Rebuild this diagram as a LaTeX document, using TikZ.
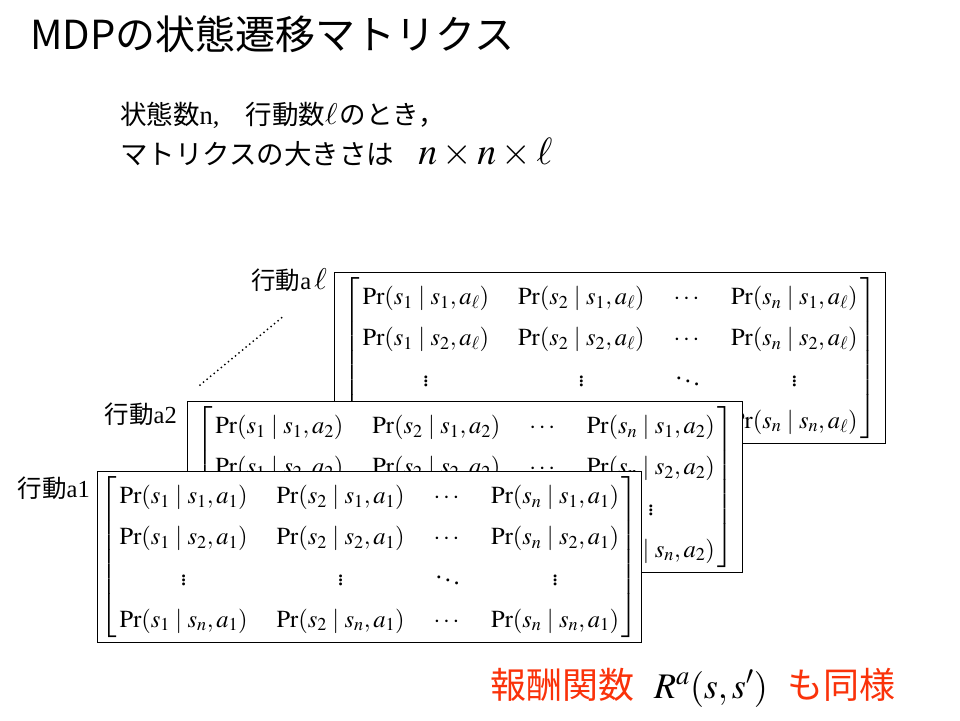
\documentclass[tikz,border=0pt]{standalone}
\usepackage{amsmath}
\usepackage{mathptmx}
\usepackage[no-math]{fontspec}
\setmainfont{Liberation Serif}
\newfontfamily\jp{Noto Sans CJK JP}
\usepackage{tikz}
\usetikzlibrary{positioning}
\definecolor{rewardred}{RGB}{250,50,10}

\newcommand{\prmat}[1]{%
  \renewcommand{\arraystretch}{1.42}\setlength{\arraycolsep}{14.5pt}%
  $\left[\,\begin{matrix}
  \Pr(s_1 \mid s_1, a_{#1}) & \Pr(s_2 \mid s_1, a_{#1}) & \cdots & \Pr(s_n \mid s_1, a_{#1})\\
  \Pr(s_1 \mid s_2, a_{#1}) & \Pr(s_2 \mid s_2, a_{#1}) & \cdots & \Pr(s_n \mid s_2, a_{#1})\\
  \vdots & \vdots & \ddots & \vdots\\
  \Pr(s_1 \mid s_n, a_{#1}) & \Pr(s_2 \mid s_n, a_{#1}) & \cdots & \Pr(s_n \mid s_n, a_{#1})
  \end{matrix}\,\right]$}

\begin{document}
\begin{tikzpicture}[
  x=1pt, y=-1pt,
  mat/.style={draw, fill=white, line width=1.2pt, anchor=north west, inner xsep=3pt, inner ysep=0pt,
    minimum height=171pt, font=\fontsize{24.5}{29}\selectfont},
  lbl/.style={anchor=base east, inner sep=0pt, font=\fontsize{24.5}{28}\selectfont}
]
\useasboundingbox (0,0) rectangle (960,720);

% title and size note
\node[anchor=base west, inner sep=0pt, font=\fontsize{40}{46}\selectfont\jp] (title) at (30,49)
  {MDPの状態遷移マトリクス};
\node[anchor=base west, inner sep=0pt, font=\fontsize{26.5}{30}\selectfont] (note1) at (120,124)
  {{\jp 状態数}n,\hspace{26pt}{\jp 行動数}{\fontsize{30}{34}\selectfont$\ell$}\hspace{2pt}{\jp のとき，}};
\node[anchor=base west, inner sep=0pt, font=\fontsize{27.5}{30}\selectfont] (note2) at (120,164)
  {{\jp マトリクスの大きさは}\hspace{24pt}{\fontsize{38}{44}\selectfont$n\times n\times \ell$}};

% stacked matrices, back to front
\node[mat, minimum width=551pt] (matl) at (334,272) {\prmat{\ell}};
\node[mat, minimum width=555pt] (mat2) at (187,401) {\prmat{2}};
\node[mat, minimum width=543pt] (mat1) at (97,471) {\prmat{1}};

% action labels
\node[lbl] (labl) at (327,289) {{\jp 行動}a\hspace{3pt}{\fontsize{30}{34}\selectfont$\ell$}};
\node[lbl] (lab2) at (177,423) {{\jp 行動}a2};
\node[lbl] (lab1) at (90,497) {{\jp 行動}a1};

% dots between layers
\coordinate (dotA) at (200,385);
\coordinate (dotB) at (285,315);
\draw[line width=2pt, line cap=round, dash pattern=on 0pt off 4.6pt] (dotA) -- (dotB);

% reward note
\node[anchor=base west, inner sep=0pt, text=rewardred, font=\fontsize{36}{40}\selectfont] (reward) at (490,698)
  {{\jp 報酬関数}\hspace{20pt}\textcolor{black}{$R^a(s,s')$}\hspace{20pt}{\jp も同様}};
\end{tikzpicture}
\end{document}
